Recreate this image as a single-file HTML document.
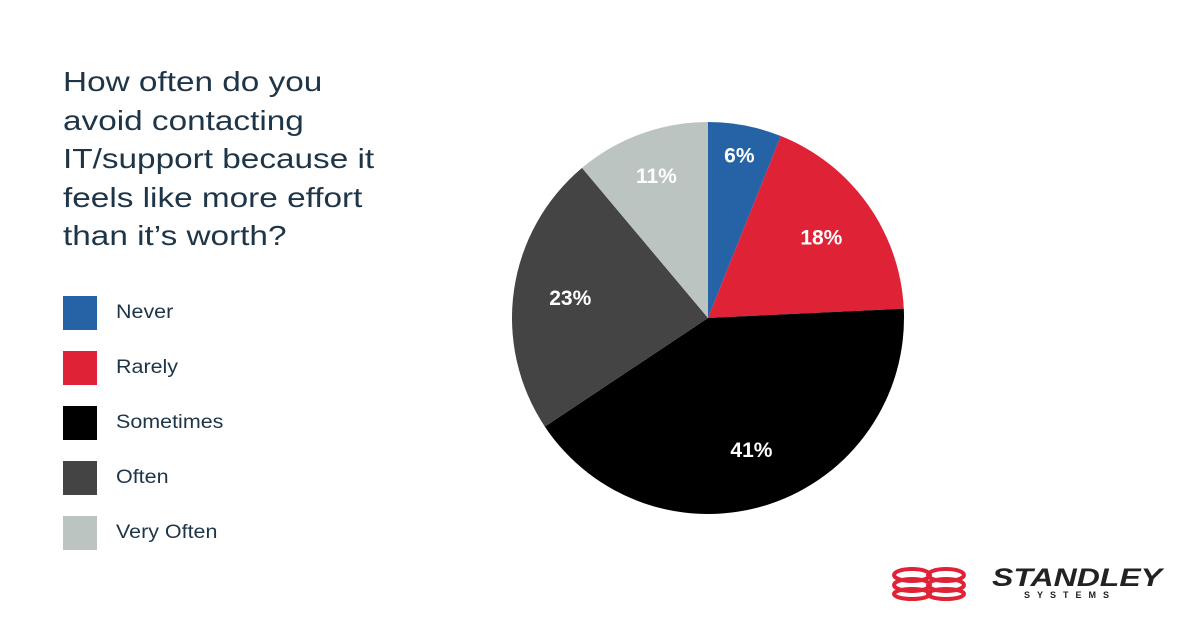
<!DOCTYPE html>
<html><head><meta charset="utf-8"><style>
body{margin:0;width:1200px;height:628px;background:#fff;font-family:"Liberation Sans",sans-serif;position:relative;overflow:hidden}
.title{position:absolute;left:63px;top:63px;font-size:28px;line-height:38.5px;color:#1e3447;white-space:nowrap;transform:scaleX(1.19);transform-origin:0 0}
.leg{position:absolute;left:63px;display:flex;align-items:center}
.leg .sw{width:34px;height:34px;margin-right:19px}
.leg span{font-size:19px;color:#1e3447;display:inline-block;transform:scaleX(1.13);transform-origin:0 50%}
</style></head><body>
<div class="title">How often do you<br>avoid contacting<br>IT/support because it<br>feels like more effort<br>than it’s worth?</div>
<div id="legend"></div>
<svg id="pie" width="1200" height="628" style="position:absolute;left:0;top:0"></svg>
<div style="position:absolute;left:890px;top:565px">
<svg width="280" height="40">
<g fill="none" stroke="#e02236" stroke-width="4">
<ellipse cx="22" cy="10" rx="18" ry="6"/><ellipse cx="56" cy="10" rx="18" ry="6"/>
<ellipse cx="22" cy="20" rx="18" ry="6"/><ellipse cx="56" cy="20" rx="18" ry="6"/>
<ellipse cx="22" cy="29" rx="18" ry="5"/><ellipse cx="56" cy="29" rx="18" ry="5"/>
</g>
<text x="102" y="21" font-size="25" font-weight="bold" font-style="italic" fill="#222" textLength="170" lengthAdjust="spacingAndGlyphs">STANDLEY</text>
<text x="134" y="33" font-size="9" font-weight="bold" fill="#222" letter-spacing="7">SYSTEMS</text>
</svg></div>
<script>
const categories=["Never","Rarely","Sometimes","Often","Very Often"];
const values=[6,18,41,23,11];
const colors=["#2563a6","#e02236","#000000","#444444","#bcc4c2"];
const cx=708,cy=318,r=196;
const svg=document.getElementById('pie');
const NS="http://www.w3.org/2000/svg";
const total=values.reduce((a,b)=>a+b,0);
let acc=0;
function pt(a,rr){return [cx+rr*Math.sin(a),cy-rr*Math.cos(a)];}
values.forEach((v,i)=>{
 const a0=acc/total*2*Math.PI; acc+=v; const a1=acc/total*2*Math.PI;
 const p0=pt(a0,r),p1=pt(a1,r);
 const path=document.createElementNS(NS,'path');
 path.setAttribute('d',`M${cx},${cy}L${p0[0]},${p0[1]}A${r},${r} 0 ${a1-a0>Math.PI?1:0} 1 ${p1[0]},${p1[1]}Z`);
 path.setAttribute('fill',colors[i]);
 
 
 svg.appendChild(path);
 const m=(a0+a1)/2,lp=pt(m,r*(0.71+Math.max(0,15-v)*0.015));
 const t=document.createElementNS(NS,'text');
 t.setAttribute('x',lp[0]);t.setAttribute('y',lp[1]+7);
 t.setAttribute('text-anchor','middle');t.setAttribute('font-size','21');t.setAttribute('font-weight','bold');
 t.setAttribute('fill','#fff');t.setAttribute('font-family','Liberation Sans, sans-serif');
 t.textContent=v+'%';
 
 
 svg.appendChild(t);
});
const leg=document.getElementById('legend');
categories.forEach((c,i)=>{
 const d=document.createElement('div');d.className='leg';d.style.top=(296+i*55)+'px';
 
 
 d.innerHTML=`<div class="sw" style="background:${colors[i]}"></div><span>${c}</span>`;
 leg.appendChild(d);
});
</script>
</body></html>
